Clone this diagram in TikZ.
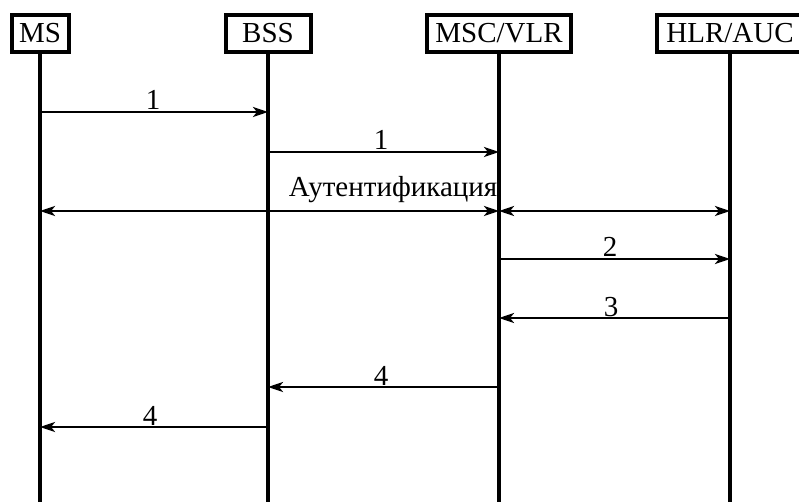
\documentclass[tikz,border=0pt]{standalone}
\usepackage{fontspec}
\setmainfont{Liberation Serif}
\usetikzlibrary{arrows.meta}
\tikzset{
    % Boxes for the network elements
    entity/.style={
        rectangle,
        draw=black,
        fill=white,
        line width=4pt,
        minimum height=37pt,
        inner sep=0pt,
        font=\fontsize{29}{31}\selectfont
    },
    lifeline/.style={
        line width=4pt,
        black
    },
    msg/.style={
        -{Stealth[length=15pt,width=10pt,inset=4pt]},
        line width=2.6pt,
        black
    },
    bimsg/.style={
        {Stealth[length=15pt,width=10pt,inset=4pt]}-{Stealth[length=15pt,width=10pt,inset=4pt]},
        line width=2.6pt,
        black
    },
    msg label/.style={
        anchor=base,
        inner sep=0pt,
        font=\fontsize{29}{31}\selectfont
    }
}

\begin{document}
\begin{tikzpicture}[x=1pt, y=-1pt]
        \useasboundingbox (0,0) rectangle (799,502);

        % Network elements
        \node[entity, minimum width=57pt] (ms) at (40, 33.5) {MS};
        \node[entity, minimum width=85pt] (bss) at (268, 33.5) {BSS};
        \node[entity, minimum width=144pt] (msc) at (499, 33.5) {MSC/VLR};
        \node[entity, minimum width=146pt] (hlr) at (730, 33.5) {HLR/AUC};

        % Lifelines
        \coordinate (ms end) at (40, 502);
        \coordinate (bss end) at (268, 502);
        \coordinate (msc end) at (499, 502);
        \coordinate (hlr end) at (730, 502);
        \draw[lifeline] (ms.south) -- (ms end);
        \draw[lifeline] (bss.south) -- (bss end);
        \draw[lifeline] (msc.south) -- (msc end);
        \draw[lifeline] (hlr.south) -- (hlr end);

        % Messages
        \draw[msg] (ms.south |- 0,112) -- (bss.south |- 0,112);
        \node[msg label] (m1) at (153, 110) {1};

        \draw[msg] (bss.south |- 0,152) -- (msc.south |- 0,152);
        \node[msg label] (m2) at (381, 150) {1};

        \draw[bimsg] (ms.south |- 0,211) -- (msc.south |- 0,211);
        \draw[bimsg] (msc.south |- 0,211) -- (hlr.south |- 0,211);
        \node[msg label] (auth) at (393, 197) {Аутентификация};

        \draw[msg] (msc.south |- 0,259) -- (hlr.south |- 0,259);
        \node[msg label] (m3) at (610, 257) {2};

        \draw[msg] (hlr.south |- 0,318) -- (msc.south |- 0,318);
        \node[msg label] (m4) at (611, 316) {3};

        \draw[msg] (msc.south |- 0,387) -- (bss.south |- 0,387);
        \node[msg label] (m5) at (381, 385) {4};

        \draw[msg] (bss.south |- 0,427) -- (ms.south |- 0,427);
        \node[msg label] (m6) at (150, 425) {4};
    \end{tikzpicture}
\end{document}
